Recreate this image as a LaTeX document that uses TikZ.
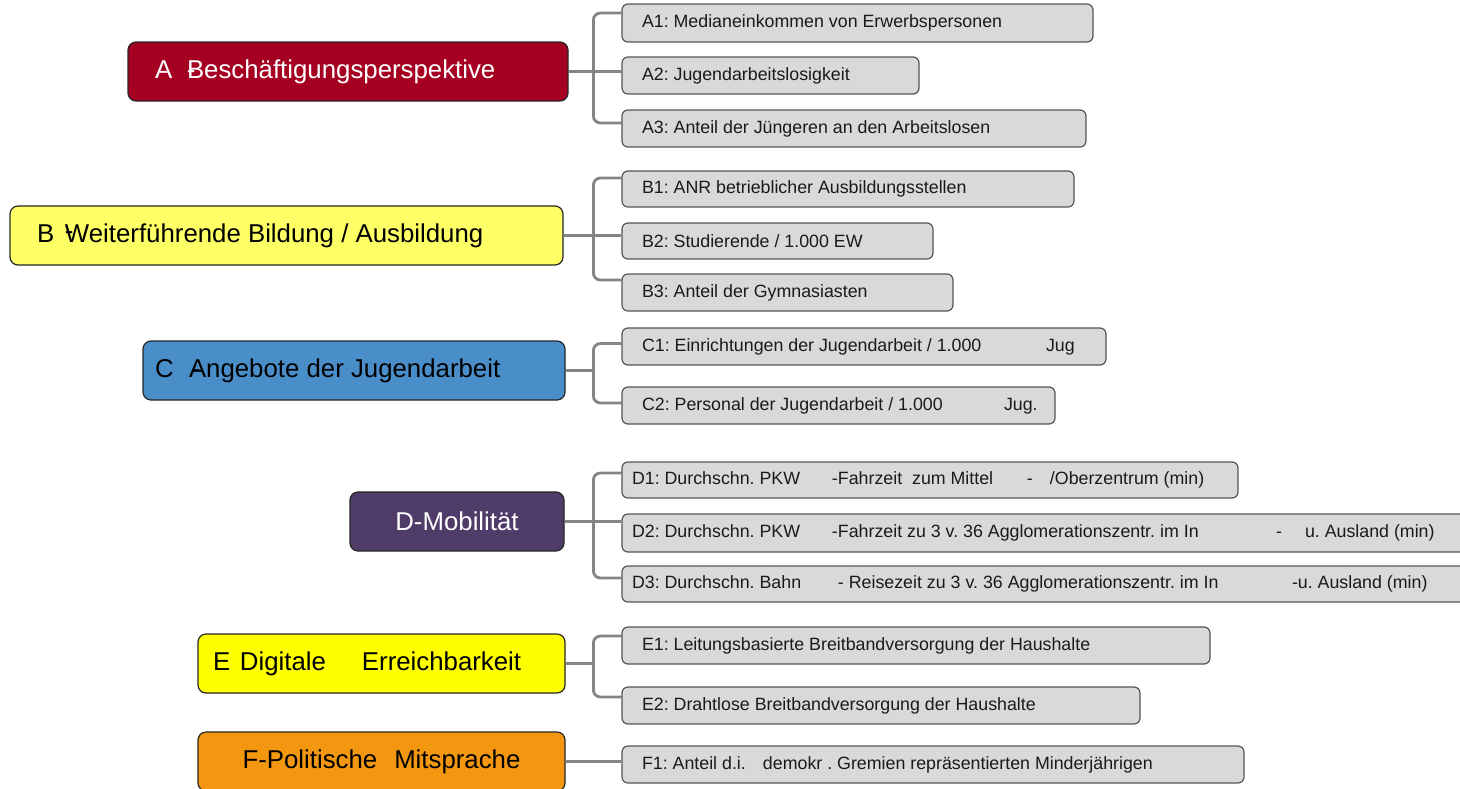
\documentclass[tikz,border=0pt]{standalone}
\usepackage{fontspec}
\setmainfont{Liberation Sans}
\usetikzlibrary{calc}
\pgfdeclarelayer{bg}
\pgfsetlayers{bg,main}
\frenchspacing
\definecolor{colA}{HTML}{A50021}
\definecolor{colB}{HTML}{FFFF66}
\definecolor{colC}{HTML}{4A8EC9}
\definecolor{colD}{HTML}{4F3C69}
\definecolor{colE}{HTML}{FFFF00}
\definecolor{colF}{HTML}{F39710}
\definecolor{subgray}{HTML}{D9D9D9}
\definecolor{subedge}{HTML}{555555}
\definecolor{linegray}{HTML}{858585}
\definecolor{subtext}{HTML}{1A1A1A}
\tikzset{
  mainbox/.style={draw=black!85, line width=1.2pt, rounded corners=8pt, inner sep=0pt,
    font=\fontsize{25.8}{30}\selectfont},
  subbox/.style={draw=subedge, fill=subgray, line width=1.2pt, rounded corners=6pt, inner sep=0pt,
    text=subtext, font=\fontsize{17.8}{21}\selectfont},
  conn/.style={draw=linegray, line width=2.8pt, rounded corners=7pt},
}
% #1 style, #2 name, #3 left, #4 right, #5 top, #6 bottom, #7 text padding, #8 text
\newcommand\mybox[8]{%
  \node[#1, minimum width={#4-#3}, minimum height={#6-#5}] (#2) at ({(#3+#4)/2},{(#5+#6)/2})
    {\makebox[\dimexpr #4pt-#3pt-#7pt-#7pt\relax][l]{#8}};}
\begin{document}
\begin{tikzpicture}[x=1pt,y=-1pt]
\useasboundingbox (0,0) rectangle (1460,788);
\clip (0,0) rectangle (1460,788);
% main boxes
\mybox{mainbox, fill=colA, text=white}{A}{128}{568}{42}{101}{27}{\makebox[32pt][l]{A}\rlap{-}Beschäftigungsperspektive}
\mybox{mainbox, fill=colB, text=black}{B}{10}{563}{206}{265}{27}{\makebox[28pt][l]{B}\rlap{\raisebox{3pt}{-}}Weiterführende Bildung / Ausbildung}
\mybox{mainbox, fill=colC, text=black}{C}{143}{565}{341}{400}{12}{\makebox[34pt][l]{C}\rlap{\kern3pt-}Angebote der Jugendarbeit}
\mybox{mainbox, fill=colD, text=white}{D}{350}{564}{492}{551}{0}{\hfill D-Mobilität\hfill}
\mybox{mainbox, fill=colE, text=black}{E}{198}{565}{634}{693}{15}{\makebox[27pt][l]{E}\makebox[122pt][l]{Digitale}Erreichbarkeit}
\mybox{mainbox, fill=colF, text=black}{F}{198}{565}{732}{791}{0}{\hfill F-Politische\hspace{17pt}Mitsprache\hfill}
% sub boxes
\mybox{subbox}{A1}{622}{1093}{4}{42}{20}{A1: Medianeinkommen von Erwerbspersonen}
\mybox{subbox}{A2}{622}{919}{57}{94}{20}{A2: Jugendarbeitslosigkeit}
\mybox{subbox}{A3}{622}{1086}{110}{147}{20}{A3: Anteil der Jüngeren an den Arbeitslosen}
\mybox{subbox}{B1}{622}{1074}{171}{207}{20}{B1: ANR betrieblicher Ausbildungsstellen}
\mybox{subbox}{B2}{622}{933}{223}{259}{20}{B2: Studierende / 1.000 EW}
\mybox{subbox}{B3}{622}{953}{274}{311}{20}{B3: Anteil der Gymnasiasten}
\mybox{subbox}{C1}{622}{1106}{328}{365}{20}{\makebox[404pt][l]{C1: Einrichtungen der Jugendarbeit / 1.000}Jug}
\mybox{subbox}{C2}{622}{1055}{387}{424}{20}{\makebox[362pt][l]{C2: Personal der Jugendarbeit / 1.000}Jug.}
\mybox{subbox}{D1}{622}{1238}{462}{498}{10}{\makebox[200pt][l]{D1: Durchschn. PKW}\makebox[195pt][l]{-Fahrzeit\ \ zum Mittel}\makebox[23pt][l]{-}/Oberzentrum (min)}
\mybox{subbox}{D2}{622}{1480}{514}{552}{10}{\makebox[200pt][l]{D2: Durchschn. PKW}\makebox[444pt][l]{-Fahrzeit zu 3 v. 36 Agglomerationszentr. im In}\makebox[29pt][l]{-}u. Ausland (min)}
\mybox{subbox}{D3}{622}{1480}{566}{602}{10}{\makebox[206pt][l]{D3: Durchschn. Bahn}\makebox[454pt][l]{- Reisezeit zu 3 v. 36 Agglomerationszentr. im In}-u. Ausland (min)}
\mybox{subbox}{E1}{622}{1210}{627}{664}{20}{E1: Leitungsbasierte Breitbandversorgung der Haushalte}
\mybox{subbox}{E2}{622}{1140}{687}{724}{20}{E2: Drahtlose Breitbandversorgung der Haushalte}
\mybox{subbox}{F1}{622}{1244}{746}{783}{20}{\makebox[121pt][l]{F1: Anteil d.i.}demokr . Gremien repräsentierten Minderjährigen}
% junctions
\coordinate (jA) at ($(A.east -| A1.west)+(-28,0)$);
\coordinate (jB) at ($(B.east -| B1.west)+(-28,0)$);
\coordinate (jC) at ($(C.east -| C1.west)+(-28,0)$);
\coordinate (jD) at ($(D.east -| D1.west)+(-28,0)$);
\coordinate (jE) at ($(E.east -| E1.west)+(-28,0)$);
\begin{pgfonlayer}{bg}
\draw[conn] (A.east) -- (A.east -| A2.west);
\draw[conn] ($(A1.west)+(0,-10)$) -| (jA) |- ($(A3.west)+(0,-5.5)$);
\draw[conn] (B.east) -- (B.east -| B2.west);
\draw[conn] ($(B1.west)+(0,-11)$) -| (jB) |- ($(B3.west)+(0,-12.5)$);
\draw[conn] (C.east) -- (jC);
\draw[conn] ($(C1.west)+(0,-3)$) -| (jC) |- ($(C2.west)+(0,-2.5)$);
\draw[conn] (D.east) -- (D.east -| D2.west);
\draw[conn] ($(D1.west)+(0,-7)$) -| (jD) |- ($(D3.west)+(0,-6)$);
\draw[conn] (E.east) -- (jE);
\draw[conn] ($(E1.west)+(0,-9.5)$) -| (jE) |- ($(E2.west)+(0,-8.5)$);
\draw[conn] (F.east) -- (F.east -| F1.west);
\end{pgfonlayer}
\end{tikzpicture}
\end{document}
